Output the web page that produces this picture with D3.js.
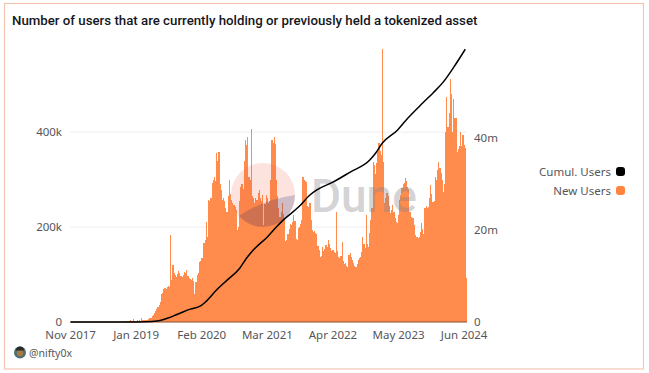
<!DOCTYPE html>
<html>
<head>
<meta charset="utf-8">
<script src="https://cdn.jsdelivr.net/npm/d3@7"></script>
<style>
  html, body { margin: 0; padding: 0; background: #fff; }
  text { font-family: "Noto Sans", sans-serif; }
</style>
</head>
<body>
<div id="chart"></div>
<script>
// weekly new users (thousands)
const newUsersK = [
  0,0,0,0,0,0,0,0,0,0, 0,0,0,0,0,0,0,0,0,0,
  0,0,0,0,0,0,0,0,0,0, 0,0,0,0,0,0,0,0,0,0,
  0,0,0,0,1,1,2,1,1,3, 2,3,5,2,3,6,3,2,5,3,
  4,3,8,4,5,5,4,4,6,8, 9,12,15,19,23,27,32,36,42,58,
  62,69,71,70,73,75,74,183,88,120, 104,98,95,101,107,103,97,94,100,106,
  103,110,97,93,90,88,92,86,60,85, 98,103,126,128,135,134,166,172,210,178,
  258,255,262,292,300,305,298,356,340,358, 290,278,258,262,255,240,232,265,299,270,
  257,250,246,242,235,194,200,255,284,290, 280,340,383,372,390,305,300,406,265,262,
  250,262,258,272,278,262,255,268,204,248, 267,262,250,255,300,383,378,390,375,299,
  265,240,221,232,250,228,215,170,172,186, 196,206,204,210,225,212,175,173,198,200,
  206,215,305,300,296,295,245,242,250,215, 194,190,192,187,185,160,152,137,140,158,
  150,154,162,158,172,165,155,150,152,147, 145,232,150,136,134,140,168,128,122,125,
  118,116,142,146,136,130,124,118,116,122, 130,134,136,148,178,165,155,225,165,158,
  188,215,240,337,330,312,335,362,378,360, 352,575,337,250,262,272,265,245,230,235,
  247,232,218,210,208,225,257,268,282,290, 292,303,298,285,280,232,222,220,218,205,
  183,178,176,178,190,208,196,186,240,244, 240,242,262,288,270,252,255,305,300,320,
  337,325,313,300,274,290,400,474,410,440, 511,480,400,470,430,430,358,365,370,400,
  370,394,372,366,93
];

// cumulative users (millions), read at these week positions
const cumulWeeks = [0,50,65,75,84,93,104,113,117,127,136,147,153,159,171,179,185,199,208,214,228,243,260,265,271,284,293,306,315,324,333,343];
const cumulM = [0,0,0.05,0.2,0.8,1.7,2.8,3.5,4.3,7,9.1,11.7,13.9,15.7,18.5,20.7,22.2,25.2,27.6,28.7,30.4,32.6,35.2,36.7,38.9,41.7,44.3,47.6,49.8,52.2,55.4,59.3];

const tickLabels = ["Nov 2017","Jan 2019","Feb 2020","Mar 2021","Apr 2022","May 2023","Jun 2024"];
const tickStep = 57;
const leftTicks = [0, 200, 400];
const rightTicks = [0, 20, 40];
const legendNames = ["Cumul. Users", "New Users"];
const legendColors = ["#000000", "#ff8440"];

const width = 649, height = 373;
const margin = {left: 70, right: 182, top: 49, bottom: 51};
const barColor = "#ff8c4c";
const tickColor = "#55565a";

const svg = d3.select("#chart").append("svg")
  .attr("width", width)
  .attr("height", height)
  .style("display", "block");

// card border
svg.append("rect")
  .attr("x", 4.5).attr("y", 3.5)
  .attr("width", 639).attr("height", 365.5)
  .attr("fill", "#fff")
  .attr("stroke", "#f5c6b4")
  .attr("stroke-width", 1.2);

svg.append("text")
  .attr("x", 12).attr("y", 24.5)
  .attr("font-size", 13.25)
  .attr("font-weight", 500)
  .attr("fill", "#14161c")
  .style("font-family", "Roboto, sans-serif")
  .text("Number of users that are currently holding or previously held a tokenized asset");

const x = d3.scaleBand()
  .domain(d3.range(newUsersK.length))
  .range([margin.left, width - margin.right]);

const yLeft = d3.scaleLinear().domain([0, 575]).range([height - margin.bottom, margin.top]);
const yRight = d3.scaleLinear().domain([0, 59.35]).range([height - margin.bottom, margin.top]);

// gridlines
svg.append("g")
  .selectAll("line")
  .data(leftTicks.filter(d => d > 0))
  .join("line")
  .attr("x1", margin.left)
  .attr("x2", width - margin.right)
  .attr("y1", d => yLeft(d))
  .attr("y2", d => yLeft(d))
  .attr("stroke", "#eeeeee");

// BARS ==========
svg.append("g")
  .attr("shape-rendering", "crispEdges")
  .selectAll("rect")
  .data(newUsersK)
  .join("rect")
  .attr("x", (_, i) => x(i))
  .attr("width", x.bandwidth())
  .attr("y", d => yLeft(d))
  .attr("height", d => yLeft(0) - yLeft(d))
  .attr("fill", barColor);

// baseline
svg.append("line")
  .attr("x1", margin.left)
  .attr("x2", width - margin.right)
  .attr("y1", yLeft(0))
  .attr("y2", yLeft(0))
  .attr("stroke", "#8c4f2e")
  .attr("stroke-width", 1);

// WATERMARK ==========
const mark = svg.append("g");
mark.append("circle")
  .attr("cx", 263).attr("cy", 195).attr("r", 32)
  .attr("fill", "rgba(240, 90, 60, 0.17)");
mark.append("path")
  .attr("d", "M239,216 A32,32 0 0 0 295,195 Q262,200 239,216 Z")
  .attr("fill", "rgba(40, 50, 110, 0.22)");
mark.append("text")
  .attr("x", 311).attr("y", 212)
  .attr("font-size", 46)
  .attr("font-weight", 500)
  .attr("fill", "rgba(130, 130, 140, 0.36)")
  .style("font-family", "Roboto, sans-serif")
  .text("Dune");

// LINE ==========
const line = d3.line()
  .x((_, i) => x(cumulWeeks[i]) + x.bandwidth() / 2)
  .y(d => yRight(d))
  .curve(d3.curveMonotoneX);

svg.append("path")
  .datum(cumulM)
  .attr("d", line)
  .attr("fill", "none")
  .attr("stroke", "#000")
  .attr("stroke-width", 1.5);

// AXES ==========
const styleAxis = g => {
  g.select(".domain").remove();
  g.selectAll("text").attr("fill", tickColor).attr("font-size", 11.5).style("font-family", '"Noto Sans", sans-serif');
};

svg.append("g")
  .attr("transform", `translate(${margin.left},0)`)
  .call(d3.axisLeft(yLeft).tickValues(leftTicks).tickSize(0).tickPadding(8)
    .tickFormat(d => d === 0 ? "0" : d + "k"))
  .call(styleAxis);

svg.append("g")
  .attr("transform", `translate(${width - margin.right},0)`)
  .call(d3.axisRight(yRight).tickValues(rightTicks).tickSize(0).tickPadding(7)
    .tickFormat(d => d === 0 ? "0" : d + "m"))
  .call(styleAxis);

svg.append("g")
  .attr("transform", `translate(0,${height - margin.bottom})`)
  .call(d3.axisBottom(x)
    .tickValues(tickLabels.map((_, i) => i * tickStep))
    .tickSize(0).tickPadding(9)
    .tickFormat(d => tickLabels[d / tickStep]))
  .call(styleAxis);

// LEGEND ==========
const legend = svg.append("g")
  .selectAll("g")
  .data(legendNames)
  .join("g")
  .attr("transform", (_, i) => `translate(0,${171.5 + i * 19})`);

legend.append("text")
  .attr("x", 611)
  .attr("dy", "0.35em")
  .attr("text-anchor", "end")
  .attr("font-size", 11.5)
  .attr("fill", tickColor)
  .text(d => d);

legend.append("rect")
  .attr("x", 616).attr("y", -4.5)
  .attr("width", 9).attr("height", 9)
  .attr("rx", 3)
  .attr("fill", (_, i) => legendColors[i]);

// FOOTER ==========
svg.append("circle").attr("cx", 20).attr("cy", 352.5).attr("r", 6).attr("fill", "#4d6f78");
svg.append("circle").attr("cx", 20).attr("cy", 353).attr("r", 3.2).attr("fill", "#a9793f");
svg.append("path").attr("d", "M16,350.5 A4,4 0 0 1 24,350.5 Z").attr("fill", "#2a2a28");

svg.append("text")
  .attr("x", 29).attr("y", 356.5)
  .attr("font-size", 10.5)
  .attr("fill", tickColor)
  .text("@nifty0x");
</script>
</body>
</html>
